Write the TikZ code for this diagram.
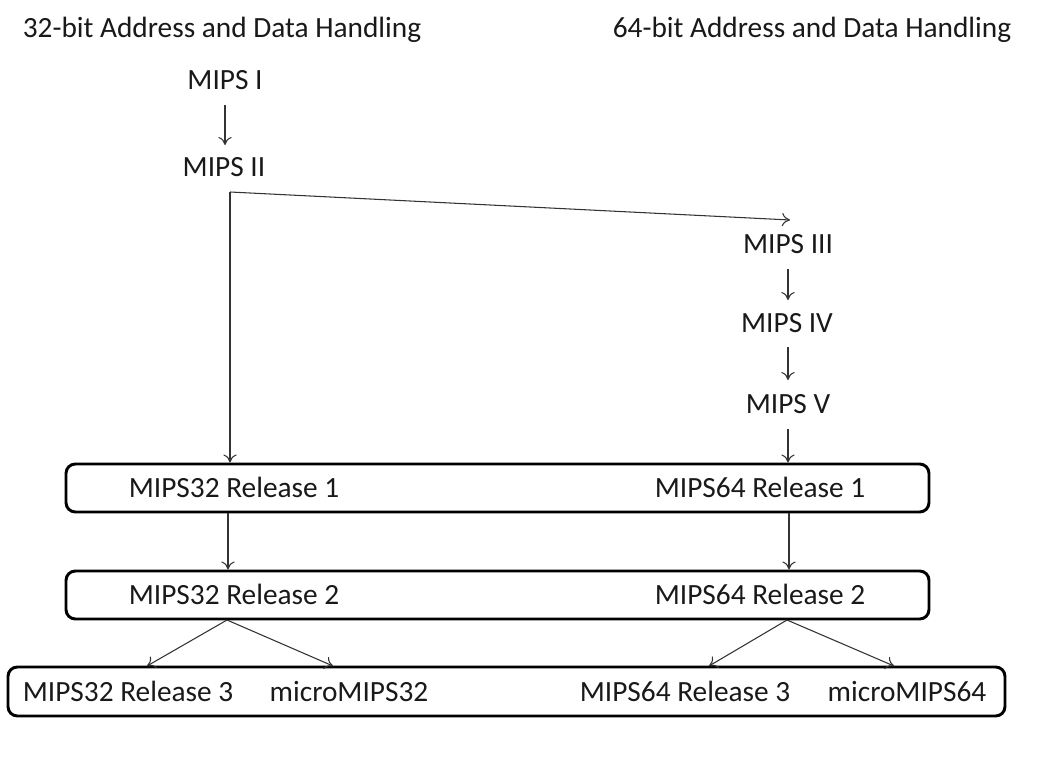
\documentclass[tikz,border=0pt]{standalone}
\usepackage{fontspec}
\setmainfont{Carlito}
\usetikzlibrary{arrows.meta,fit}
\begin{document}
\begin{tikzpicture}[x=0.75pt,y=-0.75pt,
  lbl/.style={anchor=base,inner sep=0pt,font=\fontsize{22}{26}\selectfont,text=black!90},
  box/.style={draw=black,line width=2.2pt,rounded corners=7pt,inner sep=0pt},
  conn/.style={draw=black!80,line width=0.8pt,-{To[length=6pt,width=10pt]}}]
\useasboundingbox (0,0) rectangle (1054,782);
% titles
\node[lbl] (t32) at (222,37) {32-bit Address and Data Handling};
\node[lbl] (t64) at (812,37) {64-bit Address and Data Handling};
% chain
\node[lbl] (m1) at (225,89) {MIPS I};
\node[lbl] (m2) at (224,176) {MIPS II};
\node[lbl] (m3) at (788,253) {MIPS III};
\node[lbl] (m4) at (787,332) {MIPS IV};
\node[lbl] (m5) at (788,413) {MIPS V};
% boxes
\node[box,fit={(66,464)(929,512)}] (b1) {};
\node[box,fit={(66,571)(929,619)}] (b2) {};
\node[box,fit={(8,667)(1005,716)}] (b3) {};
\node[lbl] (r32a) at (234,497) {MIPS32 Release 1};
\node[lbl] (r64a) at (760,497) {MIPS64 Release 1};
\node[lbl] (r32b) at (234,604) {MIPS32 Release 2};
\node[lbl] (r64b) at (760,604) {MIPS64 Release 2};
\node[lbl] (r32c) at (128,701) {MIPS32 Release 3};
\node[lbl] (u32) at (349,701) {microMIPS32};
\node[lbl] (r64c) at (685,701) {MIPS64 Release 3};
\node[lbl] (u64) at (907,701) {microMIPS64};
% coordinates
\coordinate (a1s) at (225,105);
\coordinate (a1e) at (225,145);
\coordinate (c32) at (230,192);
\coordinate (c3) at (790,220);
\coordinate (a3s) at (788,269);
\coordinate (a3e) at (788,300);
\coordinate (a4s) at (788,347);
\coordinate (a4e) at (788,380);
\coordinate (a5s) at (788,429);
\coordinate (x32) at (228,0);
\coordinate (x64) at (789,0);
\coordinate (f32) at (227,620);
\coordinate (f64) at (787,620);
\coordinate (t1) at (147,666);
\coordinate (t2) at (333,666);
\coordinate (t3) at (709,666);
\coordinate (t4) at (894,666);
% connectors
\draw[conn] (a1s) -- (a1e);
\draw[conn] (c32) -- (c32 |- b1.north);
\draw[conn] (c32) -- (c3);
\draw[conn] (a3s) -- (a3e);
\draw[conn] (a4s) -- (a4e);
\draw[conn] (a5s) -- (a5s |- b1.north);
\draw[conn] (b1.south -| x32) -- (b2.north -| x32);
\draw[conn] (b1.south -| x64) -- (b2.north -| x64);
\draw[conn] (f32) -- (t1);
\draw[conn] (f32) -- (t2);
\draw[conn] (f64) -- (t3);
\draw[conn] (f64) -- (t4);
\end{tikzpicture}
\end{document}
